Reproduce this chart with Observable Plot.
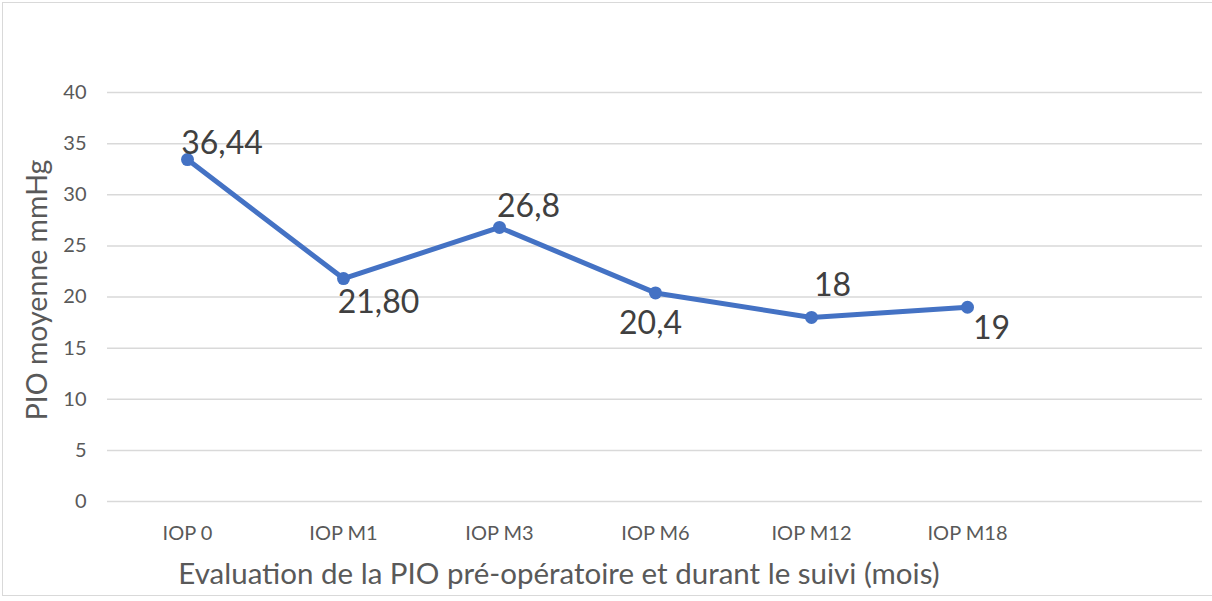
<!DOCTYPE html>
<html>
<head>
<meta charset="utf-8">
<script src="https://cdn.jsdelivr.net/npm/d3@7"></script>
<script src="https://cdn.jsdelivr.net/npm/@observablehq/plot@0.6"></script>
<style>
  html, body { margin: 0; padding: 0; background: #fff; overflow: hidden; }
  #wrap { position: relative; width: 1212px; height: 601px; overflow: hidden; }
  #frame { position: absolute; left: 2px; top: 2px; width: 1240px; height: 594px;
           border: 1.5px solid #d9d9d9; box-sizing: border-box; }
  #chart { position: absolute; left: 0; top: 0; }
</style>
</head>
<body>
<div id="wrap"><div id="frame"></div><div id="chart"></div></div>
<script>
// Data
const categories = ["IOP 0", "IOP M1", "IOP M3", "IOP M6", "IOP M12", "IOP M18"];
const values = [33.44, 21.8, 26.8, 20.4, 18, 19];
const labels = ["36,44", "21,80", "26,8", "20,4", "18", "19"];
const yTicks = [0, 5, 10, 15, 20, 25, 30, 35, 40];
const xTitle = "Evaluation de la PIO pré-opératoire et durant le suivi (mois)";
const yTitle = "PIO moyenne mmHg";

// label offsets (styling, in px)
const labelDx = [34.5, 35, 29, -5, 21, 24];
const labelDy = [-6, 34, -10, 41, -21, 32];

const rows = categories.map((c, i) => ({cat: c, value: values[i], label: labels[i], i}));
const domain = [...categories, " "];

const W = 1212, H = 601;
const font = "Lato, 'Open Sans', sans-serif";

const plot = Plot.plot({
  width: W,
  height: H,
  marginLeft: 107,
  marginRight: 10,
  marginTop: 92,
  marginBottom: 100,
  style: {fontFamily: font, background: "transparent", overflow: "visible"},
  x: {type: "band", domain, padding: 0, label: null},
  y: {domain: [0, 40], label: null},
  marks: [
    Plot.ruleY(yTicks, {stroke: "#d9d9d9", strokeWidth: 1.5}),
    Plot.axisY({ticks: yTicks, tickSize: 0, tickPadding: 21, fontSize: 20, color: "#595959", label: null}),
    Plot.axisX({ticks: categories, tickSize: 0, tickPadding: 24, fontSize: 20, color: "#595959", label: null}),
    Plot.line(rows, {x: "cat", y: "value", stroke: "#4472C4", strokeWidth: 5, strokeLinejoin: "round"}),
    Plot.dot(rows, {x: "cat", y: "value", fill: "#4472C4", r: 6.5}),
    ...rows.map((d, i) => Plot.text([d], {
      x: "cat", y: "value", text: "label",
      dx: labelDx[i], dy: labelDy[i],
      lineAnchor: "bottom", textAnchor: "middle",
      fontSize: 32, fill: "#404040"
    }))
  ]
});

const svg = d3.select(plot);
svg.append("text")
  .attr("x", 559).attr("y", 584)
  .attr("text-anchor", "middle")
  .attr("font-family", font).attr("font-size", 29.5).attr("fill", "#595959")
  .text(xTitle);
svg.append("text")
  .attr("transform", "translate(47,290) rotate(-90)")
  .attr("text-anchor", "middle")
  .attr("font-family", font).attr("font-size", 28.5).attr("fill", "#595959")
  .text(yTitle);

document.getElementById("chart").appendChild(plot);
</script>
</body>
</html>
